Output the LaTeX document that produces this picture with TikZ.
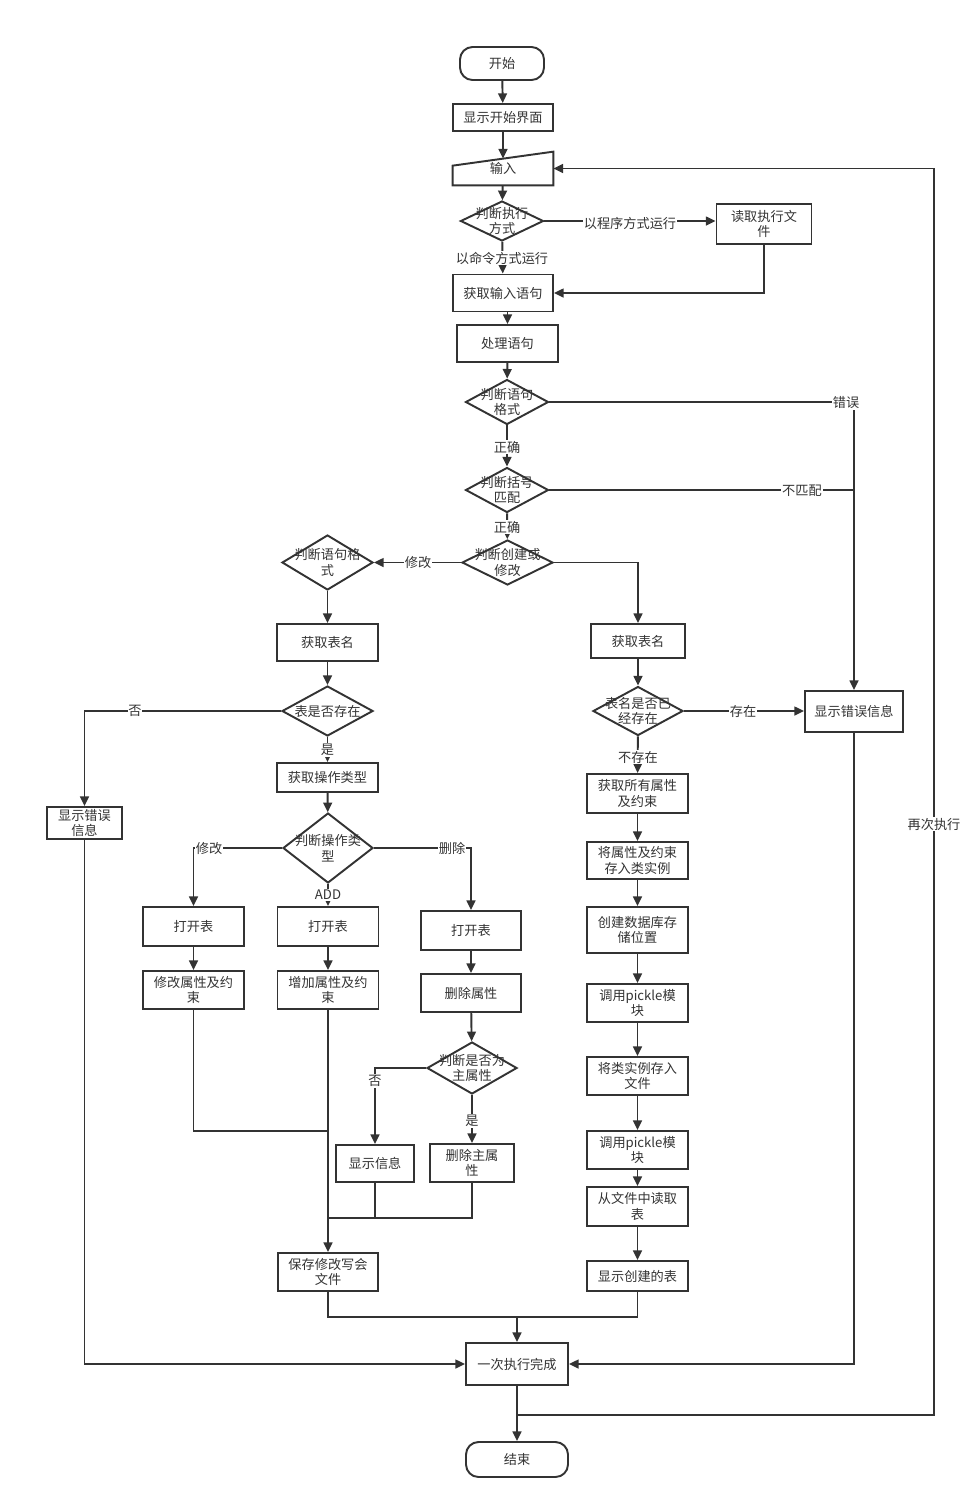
\documentclass[tikz,border=0pt]{standalone}
\usepackage{fontspec}
\setmainfont{Noto Sans CJK SC}
\usetikzlibrary{arrows.meta}
\usetikzlibrary{shapes.geometric}

\tikzset{
  box/.style={draw, line width=1.1pt, inner sep=1pt, align=center, minimum width=2.02cm, minimum height=0.76cm},
  term/.style={box, rounded corners=0.25cm},
  decide/.style={diamond, draw, line width=1.1pt, inner sep=0pt, minimum width=1.8cm, minimum height=1cm},
  lab/.style={fill=white, inner sep=0.5pt},
  link/.style={line width=1.1pt},
  arr/.style={link, ->},
}

\begin{document}
\begin{tikzpicture}[x=0.02cm, y=-0.02cm, font=\fontsize{7.5pt}{9pt}\selectfont, color=black!80,
    >={Triangle[length=5.5pt,width=5pt]}]
\useasboundingbox (0,0) rectangle (966,1509);

% main column
\node[term, minimum width=1.68cm, minimum height=0.66cm] (start) at (502,63.5) {开始};
\node[box, minimum width=2cm, minimum height=0.54cm] (ui) at (503,117.5) {显示开始界面};
\node[minimum width=2cm, minimum height=0.66cm] (inp) at (503,168.5) {输入};
\draw[link] (inp.south west) -- (inp.south east) -- (inp.north east) -- ([yshift=-0.28cm]inp.north west) -- cycle;
\node[decide, minimum width=1.66cm, minimum height=0.8cm, label={[align=center]center:判断执行\\方式}] (mode) at (502,221) {};
\node[box, minimum width=1.9cm, minimum height=0.8cm] (readf) at (764,224) {读取执行文\\件};
\node[box, minimum width=2cm, minimum height=0.74cm] (getin) at (503,293) {获取输入语句};
\node[box, minimum width=2.02cm, minimum height=0.74cm] (proc) at (507.5,343.5) {处理语句};
\node[decide, minimum width=1.66cm, minimum height=0.9cm, label={[align=center]center:判断语句\\格式}] (fmt) at (507,402) {};
\node[decide, minimum width=1.66cm, minimum height=0.9cm, label={[align=center]center:判断括号\\匹配}] (brk) at (507,490) {};
\node[decide, minimum width=1.82cm, minimum height=0.9cm, label={[align=center]center:判断创建或\\修改}] (cm) at (507.5,562.5) {};

% modify branch
\node[decide, minimum width=1.82cm, minimum height=1.1cm, label={[align=center]center:判断语句格\\式}] (fmt2) at (327.5,562.5) {};
\node[box, minimum height=0.74cm] (tbl1) at (327.5,642.5) {获取表名};
\node[decide, minimum width=1.82cm, minimum height=1cm, label={center:表是否存在}] (ex1) at (327.5,711) {};
\node[box, minimum width=1.5cm, minimum height=0.64cm] (err1) at (84.5,823) {显示错误\\信息};
\node[box, minimum height=0.58cm] (optype) at (327.5,777.5) {获取操作类型};
\node[decide, minimum width=1.8cm, minimum height=1.4cm, label={[align=center]center:判断操作类\\型}] (op) at (328,848) {};
\node[box, minimum height=0.78cm] (open1) at (193.5,926.5) {打开表};
\node[box, minimum height=0.78cm] (open2) at (328,926.5) {打开表};
\node[box, minimum width=2cm, minimum height=0.78cm] (open3) at (471,930.5) {打开表};
\node[box] (modattr) at (193.5,990) {修改属性及约\\束};
\node[box] (addattr) at (328,990) {增加属性及约\\束};
\node[box, minimum width=2cm] (delattr) at (471,993) {删除属性};
\node[decide, minimum width=1.8cm, minimum height=1.04cm, label={[align=center]center:判断是否为\\主属性}] (pk) at (472,1068) {};
\node[box, minimum width=1.56cm, minimum height=0.74cm] (showinfo) at (375,1163.5) {显示信息};
\node[box, minimum width=1.68cm] (delpk) at (472,1163) {删除主属\\性};
\node[box, minimum width=2cm] (save) at (328,1272) {保存修改写会\\文件};

% create branch
\node[box, minimum width=1.88cm, minimum height=0.68cm] (tbl2) at (638,641) {获取表名};
\node[decide, minimum width=1.8cm, minimum height=0.98cm, label={[align=center]center:表名是否已\\经存在}] (ex2) at (638,711) {};
\node[box, minimum width=1.96cm, minimum height=0.82cm] (err) at (854,711.5) {显示错误信息};
\node[box, minimum height=0.78cm] (getall) at (637.5,793.5) {获取所有属性\\及约束};
\node[box, minimum height=0.74cm] (store) at (637.5,860.5) {将属性及约束\\存入类实例};
\node[box, minimum height=0.92cm] (mkdb) at (637.5,930) {创建数据库存\\储位置};
\node[box] (pick1) at (637.5,1003) {调用pickle模\\块};
\node[box] (save2) at (637.5,1076) {将类实例存入\\文件};
\node[box] (pick2) at (637.5,1150) {调用pickle模\\块};
\node[box, minimum height=0.78cm] (readt) at (637.5,1206.5) {从文件中读取\\表};
\node[box, minimum height=0.6cm] (showt) at (637.5,1276) {显示创建的表};

\node[box, minimum width=2.04cm, minimum height=0.84cm] (done) at (517,1364) {一次执行完成};
\node[term, minimum width=2.04cm, minimum height=0.7cm] (end) at (517,1459.5) {结束};

\coordinate (j1) at (328,1131);
\coordinate (j2) at (328,1218);
\coordinate (j3) at (517,1317);
\coordinate (j4) at (517,1415);
\coordinate (back) at (934,1415);

\draw[arr] (start) -- (ui);
\draw[arr] (ui) -- ([yshift=-0.14cm]inp.north);
\draw[arr] (inp) -- (mode);
\draw[arr] (mode.east) -- (mode.east -| readf.west);
\draw[arr] (mode) -- (getin);
\draw[arr] (readf.south) |- (getin.east);
\draw[arr] (getin.south -| proc.north) -- (proc.north);
\draw[arr] (proc) -- (fmt);
\draw[arr] (fmt) -- (brk);
\draw[arr] (fmt.east) -| (err.north);
\draw[link] (brk.east) -- (brk.east -| err.north);
\draw[arr] (brk) -- (cm);
\draw[arr] (cm.west) -- (fmt2.east);
\draw[arr] (cm.east) -| (tbl2.north);

\draw[arr] (fmt2) -- (tbl1);
\draw[arr] (tbl1) -- (ex1);
\draw[arr] (ex1.west) -| (err1.north);
\draw[arr] (ex1) -- (optype);
\draw[arr] (optype) -- (op);
\draw[arr] (op.west) -| (open1.north);
\draw[arr] (op) -- (open2);
\draw[arr] (op.east) -| (open3.north);
\draw[arr] (open1) -- (modattr);
\draw[arr] (open2) -- (addattr);
\draw[arr] (open3) -- (delattr);
\draw[arr] (delattr) -- (pk);
\draw[arr] (pk.west) -| (showinfo.north);
\draw[arr] (pk) -- (delpk);
\draw[link] (modattr.south) |- (j1);
\draw[arr] (addattr) -- (save);
\draw[link] (showinfo.south) |- (j2);
\draw[link] (delpk.south) |- (j2);

\draw[arr] (tbl2) -- (ex2);
\draw[arr] (ex2.east) -- (ex2.east -| err.west);
\draw[arr] (ex2) -- (getall);
\draw[arr] (getall) -- (store);
\draw[arr] (store) -- (mkdb);
\draw[arr] (mkdb) -- (pick1);
\draw[arr] (pick1) -- (save2);
\draw[arr] (save2) -- (pick2);
\draw[arr] (pick2) -- (readt);
\draw[arr] (readt) -- (showt);

\draw[link] (save.south) |- (j3);
\draw[link] (showt.south) |- (j3);
\draw[arr] (j3) -- (done);
\draw[arr] (err1.south) |- (done.west);
\draw[arr] (err.south) |- (done.east);
\draw[arr] (done) -- (end);
\draw[arr] (j4) -- (back) |- (inp.east);

% labels on the connectors
\node[lab] (l1) at (630,223) {以程序方式运行};
\node[lab] (l2) at (502,258) {以命令方式运行};
\node[lab] (l3) at (846,403) {错误};
\node[lab] (l4) at (507,447) {正确};
\node[lab] (l5) at (802,491) {不匹配};
\node[lab] (l6) at (507,527) {正确};
\node[lab] (l7) at (418,563) {修改};
\node[lab] (l8) at (135,711) {否};
\node[lab] (l9) at (327.5,750) {是};
\node[lab] (l10) at (209,848) {修改};
\node[lab] (l11) at (328,895) {ADD};
\node[lab] (l12) at (452,848) {删除};
\node[lab] (l13) at (375,1081) {否};
\node[lab] (l14) at (472,1121) {是};
\node[lab] (l15) at (743,711) {存在};
\node[lab] (l16) at (638,757) {不存在};
\node[lab] (l17) at (934,824) {再次执行};
\end{tikzpicture}
\end{document}
